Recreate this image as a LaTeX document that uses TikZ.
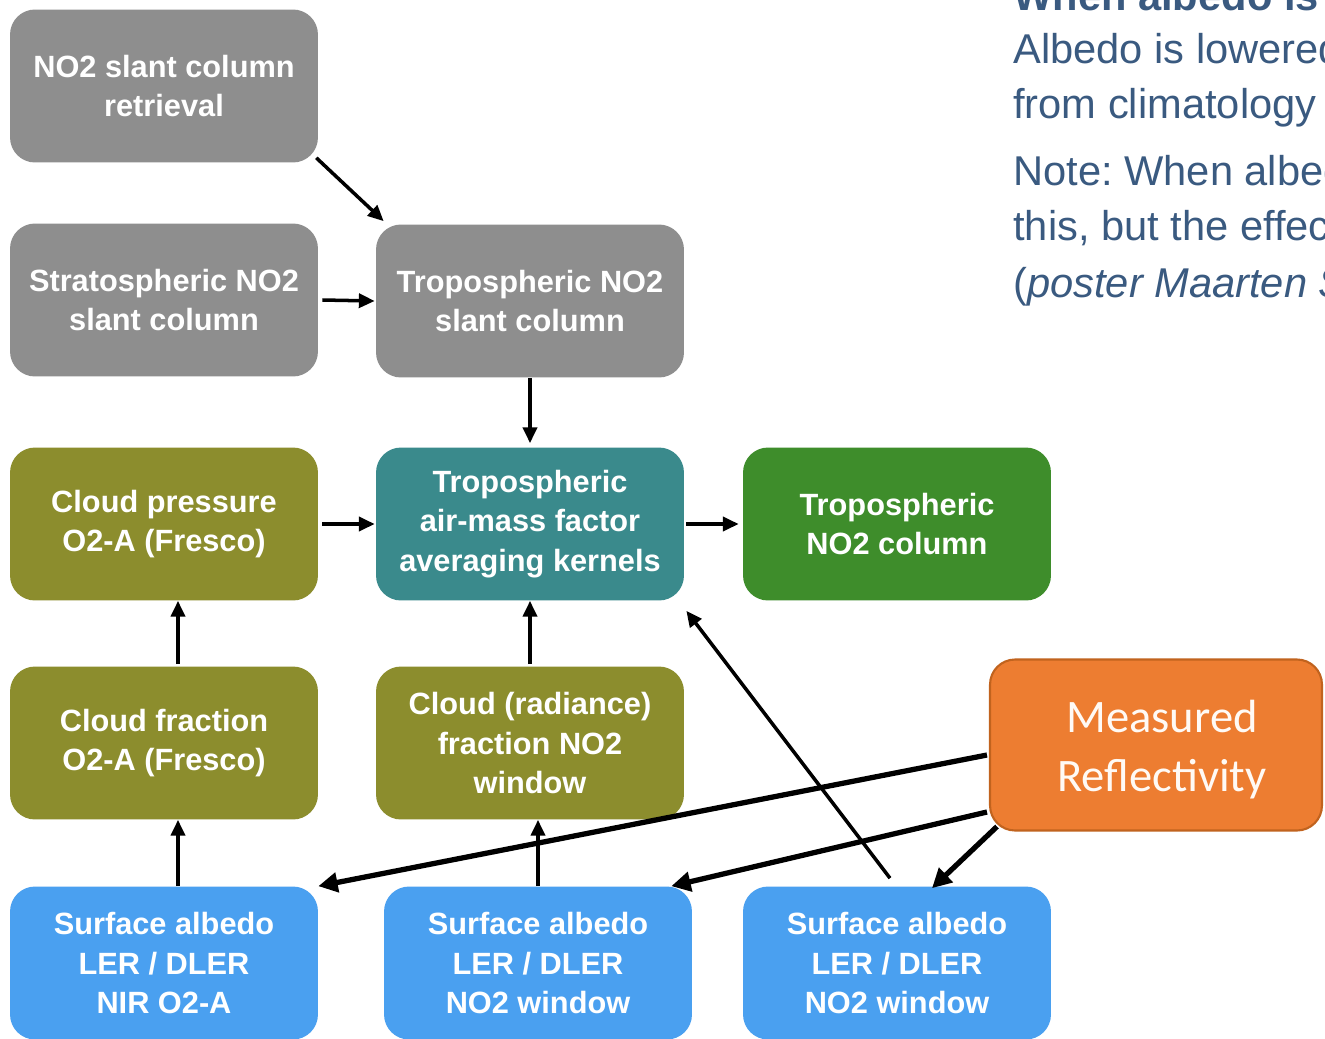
\documentclass[tikz,border=0pt]{standalone}
\usepackage{fontspec}
\setmainfont{Liberation Sans}
\newfontfamily\calib{Carlito}
\usetikzlibrary{arrows.meta,calc}
\definecolor{cgray}{HTML}{8E8E8E}
\definecolor{colive}{HTML}{8C8D2D}
\definecolor{cteal}{HTML}{3A8A8C}
\definecolor{cgreen}{HTML}{3E8D2B}
\definecolor{cblue}{HTML}{4AA0F0}
\definecolor{corange}{HTML}{ED7D31}
\definecolor{cborder}{HTML}{C1631E}
\definecolor{ctext}{HTML}{3A5A80}
\tikzset{
  box/.style={rectangle, rounded corners=0.5cm, minimum width=6.16cm, minimum height=3.06cm,
    align=center, text=white, font=\fontsize{17.5}{22.7}\selectfont\bfseries, inner sep=0pt},
  graybox/.style={box, fill=cgray},
  olivebox/.style={box, fill=colive},
  tealbox/.style={box, fill=cteal},
  greenbox/.style={box, fill=cgreen},
  bluebox/.style={box, fill=cblue},
  orangebox/.style={rectangle, rounded corners=0.5cm, minimum width=6.64cm, minimum height=3.42cm,
    align=center, text=white!96!orange, fill=corange, draw=cborder, line width=1.2pt,
    font=\calib\fontsize{26.5}{33.5}\selectfont, inner sep=0pt},
  thin/.style={-{Triangle[length=9pt,width=8pt]}, line width=2pt, black},
  thick/.style={-{Triangle[length=11pt,width=11pt]}, line width=3pt, black},
  note/.style={anchor=base west, text=ctext, font=\fontsize{23.7}{28}\selectfont, inner sep=0pt}
}
\begin{document}
\frenchspacing
\begin{tikzpicture}[x=0.02cm,y=-0.02cm]
\useasboundingbox (0,0) rectangle (1325,1038);
\clip (0,0) rectangle (1325,1038);
\fill[white] (0,0) rectangle (1325,1038);

% nodes
\node[graybox] (ret) at (164,86) {NO2 slant column\\retrieval};
\node[graybox] (strat) at (164,300) {Stratospheric NO2\\slant column};
\node[graybox] (trop) at (530,301) {Tropospheric NO2\\slant column};
\node[olivebox] (cpres) at (164,524) {Cloud pressure\\O2-A (Fresco)};
\node[tealbox] (amf) at (530,524) {Tropospheric\\air-mass factor\\averaging kernels};
\node[greenbox] (tcol) at (897,524) {Tropospheric\\NO2 column};
\node[olivebox] (cfrac) at (164,743) {Cloud fraction\\O2-A (Fresco)};
\node[olivebox] (crad) at (530,743) {Cloud (radiance)\\fraction NO2\\window};
\node[orangebox] (mr) at (1156,745) {};
\node[anchor=center, text=white!96!orange, font=\calib\fontsize{26.5}{33.5}\selectfont, align=center, inner sep=0pt] (mrt) at (1162,750) {Measured\\Reflectivity};
\node[bluebox] (sa1) at (164,963) {Surface albedo\\LER / DLER\\NIR O2-A};
\node[bluebox] (sa2) at (538,963) {Surface albedo\\LER / DLER\\NO2 window};
\node[bluebox] (sa3) at (897,963) {Surface albedo\\LER / DLER\\NO2 window};

% side text (cut off by the frame, as in the original)
\node[note, font=\fontsize{23.7}{28}\selectfont\bfseries] (t0) at (1013,10) {When albedo is};
\node[note] (t1) at (1013,63) {Albedo is lowered};
\node[note] (t2) at (1013,118) {from climatology};
\node[note] (t3) at (1013,185) {Note: When albedo};
\node[note] (t4) at (1013,240) {this, but the effect};
\node[note] (t5) at (1013,297) {(\textit{poster Maarten S}};

% connectors
\draw[thin] ([shift={(-2,-5)}]ret.south east) -- ([shift={(8,-3)}]trop.north west);
\draw[thin] ([shift={(4,0)}]strat.east) -- ([shift={(-1,0)}]trop.west);
\draw[thin] (trop.south) -- ([shift={(0,-4)}]amf.north);
\draw[thin] ([shift={(4,0)}]cpres.east) -- ([shift={(-1,0)}]amf.west);
\draw[thin] ([shift={(2,0)}]amf.east) -- ([shift={(-4,0)}]tcol.west);
\draw[thin] ([shift={(14,-2)}]cfrac.north) -- ([shift={(14,0)}]cpres.south);
\draw[thin] ([shift={(0,-2)}]crad.north) -- (amf.south);
\draw[thin] ([shift={(14,0)}]sa1.north) -- ([shift={(14,0)}]cfrac.south);
\draw[thin] (sa2.north) -- ([shift={(8,0)}]crad.south);
\draw[thin] ([shift={(-7,-8)}]sa3.north) -- ([shift={(2,10)}]amf.south east);
\draw[thick] ([shift={(-2,10)}]mr.west) -- (sa1.north east);
\draw[thick] ([shift={(-2,67)}]mr.west) -- ([shift={(-21,0)}]sa2.north east);
\draw[thick] ([shift={(8,-5)}]mr.south west) -- ([shift={(35,2)}]sa3.north);
\end{tikzpicture}
\end{document}
